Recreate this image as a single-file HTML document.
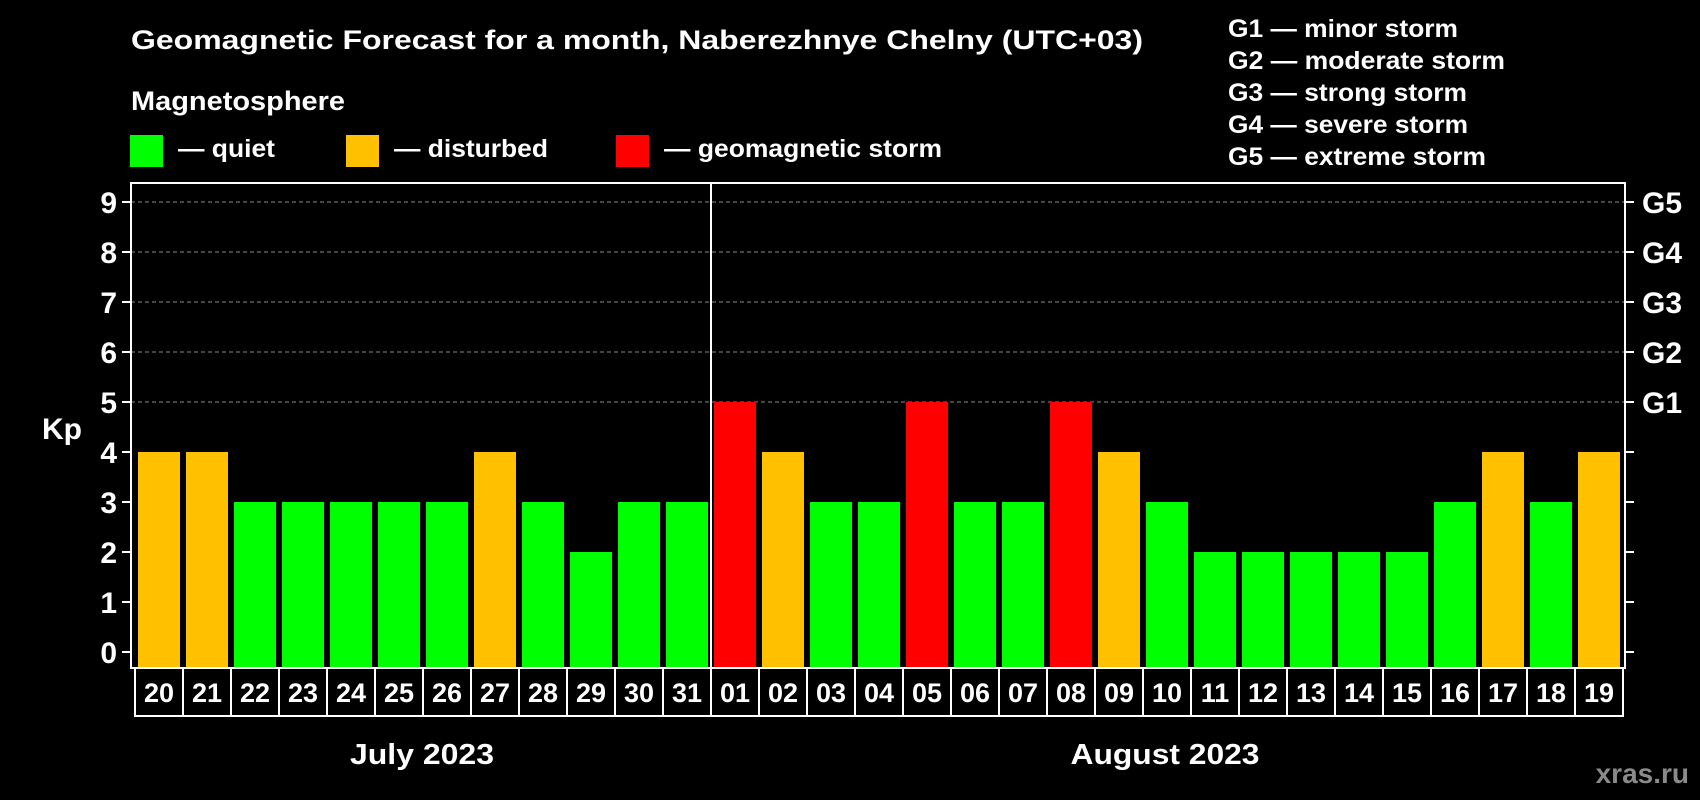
<!DOCTYPE html>
<html><head><meta charset="utf-8"><style>
html,body{margin:0;padding:0;background:#000;}
svg{display:block;font-family:"Liberation Sans",Arial,sans-serif;font-weight:bold;}
</style></head><body>
<svg id="chart" width="1700" height="800" viewBox="0 0 1700 800">
<rect width="1700" height="800" fill="#000"/>
<text x="131" y="49" font-size="27" fill="#fff" textLength="1012" lengthAdjust="spacingAndGlyphs">Geomagnetic Forecast for a month, Naberezhnye Chelny (UTC+03)</text>
<text x="131" y="110" font-size="27" fill="#fff" textLength="214" lengthAdjust="spacingAndGlyphs">Magnetosphere</text>
<g><rect x="130" y="135" width="33" height="32" fill="#00ff00"/><text x="178" y="157" font-size="25" fill="#fff" textLength="97" lengthAdjust="spacingAndGlyphs">— quiet</text></g>
<g><rect x="346" y="135" width="33" height="32" fill="#ffc000"/><text x="394" y="157" font-size="25" fill="#fff" textLength="154" lengthAdjust="spacingAndGlyphs">— disturbed</text></g>
<g><rect x="616" y="135" width="33" height="32" fill="#ff0000"/><text x="664" y="157" font-size="25" fill="#fff" textLength="278" lengthAdjust="spacingAndGlyphs">— geomagnetic storm</text></g>
<g font-size="25" fill="#fff">
<text x="1228" y="37" textLength="230" lengthAdjust="spacingAndGlyphs">G1 — minor storm</text>
<text x="1228" y="69" textLength="277" lengthAdjust="spacingAndGlyphs">G2 — moderate storm</text>
<text x="1228" y="101" textLength="239" lengthAdjust="spacingAndGlyphs">G3 — strong storm</text>
<text x="1228" y="133" textLength="240" lengthAdjust="spacingAndGlyphs">G4 — severe storm</text>
<text x="1228" y="165" textLength="258" lengthAdjust="spacingAndGlyphs">G5 — extreme storm</text>
</g>
<g id="plot"></g>
<text x="422" y="764" font-size="29" fill="#fff" text-anchor="middle" textLength="144" lengthAdjust="spacingAndGlyphs">July 2023</text>
<text x="1165" y="764" font-size="29" fill="#fff" text-anchor="middle" textLength="189" lengthAdjust="spacingAndGlyphs">August 2023</text>
<text x="1689" y="783" font-size="28" fill="#8a8a8a" text-anchor="end">xras.ru</text>
</svg>
<script>
const days = ["20","21","22","23","24","25","26","27","28","29","30","31","01","02","03","04","05","06","07","08","09","10","11","12","13","14","15","16","17","18","19"];
const kpValues = [4,4,3,3,3,3,3,4,3,2,3,3,5,4,3,3,5,3,3,5,4,3,2,2,2,2,2,3,4,3,4];
const yTicks = [0,1,2,3,4,5,6,7,8,9];
const gLabels = ["G1","G2","G3","G4","G5"];
const monthBreakIndex = 12;

const NS="http://www.w3.org/2000/svg";
const g=document.getElementById('plot');
const L=131,R=1625,T=183,B=668;
const x0=138,pitch=48,bw=42;
const y=v=>652-v*50;
const x=i=>x0+i*pitch;
function mk(tag,attrs){const e=document.createElementNS(NS,tag);for(const k in attrs)e.setAttribute(k,attrs[k]);g.appendChild(e);return e;}
yTicks.forEach(v=>{
  if(v>=5){const l=mk('line',{x1:L,x2:R,y1:y(v),y2:y(v),stroke:'#888','stroke-dasharray':'4,3','stroke-width':1});
  
  }
  const tl=mk('line',{x1:L-9,x2:L,y1:y(v),y2:y(v),stroke:'#fff','stroke-width':2});
  
  
  const tr=mk('line',{x1:R,x2:R+9,y1:y(v),y2:y(v),stroke:'#fff','stroke-width':2});
  
  
  const t=mk('text',{x:L-14,y:y(v)+11,'font-size':30,fill:'#fff','text-anchor':'end'});
  t.textContent=v;
  
  
});
gLabels.forEach((s,i)=>{
  const t=mk('text',{x:1642,y:y(5+i)+11,'font-size':30,fill:'#fff'});
  t.textContent=s;
  
  
});
const yl=mk('text',{x:42,y:439,'font-size':30,fill:'#fff'});
yl.textContent='Kp';


kpValues.forEach((v,i)=>{
  const c=v>=5?'#ff0000':(v>=4?'#ffc000':'#00ff00');
  const r=mk('rect',{x:x(i),y:y(v),width:bw,height:B-1-y(v),fill:c});
  
  
  const cell=mk('rect',{x:x(i)-3,y:B,width:pitch,height:48,fill:'none',stroke:'#fff','stroke-width':2});
  
  
  const t=mk('text',{x:x(i)+bw/2,y:B+34,'font-size':27,fill:'#fff','text-anchor':'middle'});
  t.textContent=days[i];
  
  
});
const fr=mk('rect',{x:L,y:T,width:R-L,height:B-T,fill:'none',stroke:'#fff','stroke-width':2});


const dv=mk('line',{x1:x(monthBreakIndex)-3,x2:x(monthBreakIndex)-3,y1:T,y2:B,stroke:'#fff','stroke-width':2});


</script>
</body></html>
